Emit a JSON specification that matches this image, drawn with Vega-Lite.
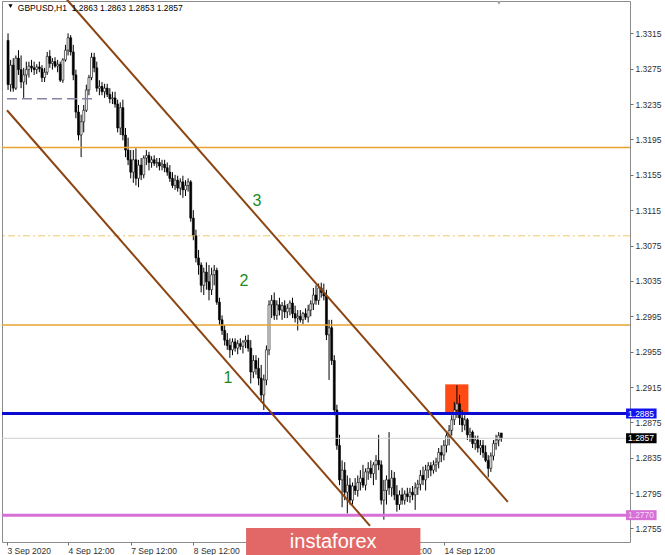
{
"$schema": "https://vega.github.io/schema/vega-lite/v6.json",
"width": 628, "height": 541,
"autosize": {"type": "none"},
"padding": {"left": 2, "top": 1, "right": 35, "bottom": 13},
"background": "white",
"config": {
  "view": {"stroke": "#8c8c8c"},
  "axis": {"grid": false, "domain": false, "labelFont": "Liberation Sans", "labelFontSize": 8.5, "labelColor": "#303030", "tickColor": "#707070", "tickSize": 3}
},
"resolve": {"axis": {"x": "independent", "y": "independent"}},
"datasets": {
"candles": [
{"i":0,"o":1.3307,"h":1.3315,"l":1.3251,"c":1.3257},
{"i":1,"o":1.3257,"h":1.3285,"l":1.3249,"c":1.3279},
{"i":2,"o":1.3279,"h":1.3287,"l":1.3249,"c":1.3253},
{"i":3,"o":1.3253,"h":1.3290,"l":1.3251,"c":1.3287},
{"i":4,"o":1.3287,"h":1.3296,"l":1.3268,"c":1.3274},
{"i":5,"o":1.3274,"h":1.3290,"l":1.3253,"c":1.3260},
{"i":6,"o":1.3260,"h":1.3276,"l":1.3242,"c":1.3268},
{"i":7,"o":1.3268,"h":1.3283,"l":1.3257,"c":1.3274},
{"i":8,"o":1.3274,"h":1.3283,"l":1.3265,"c":1.3278},
{"i":9,"o":1.3278,"h":1.3285,"l":1.3271,"c":1.3276},
{"i":10,"o":1.3276,"h":1.3283,"l":1.3268,"c":1.3274},
{"i":11,"o":1.3274,"h":1.3280,"l":1.3269,"c":1.3277},
{"i":12,"o":1.3277,"h":1.3283,"l":1.3271,"c":1.3275},
{"i":13,"o":1.3275,"h":1.3279,"l":1.3260,"c":1.3265},
{"i":14,"o":1.3265,"h":1.3276,"l":1.3260,"c":1.3271},
{"i":15,"o":1.3271,"h":1.3294,"l":1.3268,"c":1.3289},
{"i":16,"o":1.3289,"h":1.3296,"l":1.3276,"c":1.3281},
{"i":17,"o":1.3281,"h":1.3287,"l":1.3274,"c":1.3283},
{"i":18,"o":1.3283,"h":1.3288,"l":1.3276,"c":1.3278},
{"i":19,"o":1.3278,"h":1.3285,"l":1.3271,"c":1.3280},
{"i":20,"o":1.3280,"h":1.3283,"l":1.3260,"c":1.3262},
{"i":21,"o":1.3262,"h":1.3287,"l":1.3259,"c":1.3285},
{"i":22,"o":1.3285,"h":1.3302,"l":1.3283,"c":1.3296},
{"i":23,"o":1.3296,"h":1.3315,"l":1.3290,"c":1.3310},
{"i":24,"o":1.3310,"h":1.3313,"l":1.3290,"c":1.3294},
{"i":25,"o":1.3294,"h":1.3302,"l":1.3262,"c":1.3268},
{"i":26,"o":1.3268,"h":1.3274,"l":1.3219,"c":1.3226},
{"i":27,"o":1.3226,"h":1.3234,"l":1.3194,"c":1.3200},
{"i":28,"o":1.3200,"h":1.3223,"l":1.3175,"c":1.3215},
{"i":29,"o":1.3215,"h":1.3234,"l":1.3203,"c":1.3228},
{"i":30,"o":1.3228,"h":1.3257,"l":1.3226,"c":1.3251},
{"i":31,"o":1.3251,"h":1.3268,"l":1.3245,"c":1.3265},
{"i":32,"o":1.3265,"h":1.3293,"l":1.3262,"c":1.3288},
{"i":33,"o":1.3288,"h":1.3293,"l":1.3271,"c":1.3276},
{"i":34,"o":1.3276,"h":1.3283,"l":1.3249,"c":1.3253},
{"i":35,"o":1.3253,"h":1.3262,"l":1.3245,"c":1.3255},
{"i":36,"o":1.3255,"h":1.3260,"l":1.3245,"c":1.3249},
{"i":37,"o":1.3249,"h":1.3258,"l":1.3242,"c":1.3253},
{"i":38,"o":1.3253,"h":1.3258,"l":1.3243,"c":1.3246},
{"i":39,"o":1.3246,"h":1.3253,"l":1.3236,"c":1.3241},
{"i":40,"o":1.3241,"h":1.3249,"l":1.3235,"c":1.3242},
{"i":41,"o":1.3242,"h":1.3249,"l":1.3231,"c":1.3235},
{"i":42,"o":1.3235,"h":1.3240,"l":1.3203,"c":1.3208},
{"i":43,"o":1.3208,"h":1.3237,"l":1.3200,"c":1.3231},
{"i":44,"o":1.3231,"h":1.3240,"l":1.3194,"c":1.3200},
{"i":45,"o":1.3200,"h":1.3208,"l":1.3175,"c":1.3183},
{"i":46,"o":1.3183,"h":1.3197,"l":1.3166,"c":1.3172},
{"i":47,"o":1.3172,"h":1.3183,"l":1.3151,"c":1.3158},
{"i":48,"o":1.3158,"h":1.3183,"l":1.3146,"c":1.3172},
{"i":49,"o":1.3172,"h":1.3185,"l":1.3143,"c":1.3151},
{"i":50,"o":1.3151,"h":1.3172,"l":1.3141,"c":1.3166},
{"i":51,"o":1.3166,"h":1.3174,"l":1.3149,"c":1.3155},
{"i":52,"o":1.3155,"h":1.3177,"l":1.3151,"c":1.3174},
{"i":53,"o":1.3174,"h":1.3183,"l":1.3166,"c":1.3177},
{"i":54,"o":1.3177,"h":1.3181,"l":1.3160,"c":1.3169},
{"i":55,"o":1.3169,"h":1.3176,"l":1.3163,"c":1.3172},
{"i":56,"o":1.3172,"h":1.3177,"l":1.3165,"c":1.3168},
{"i":57,"o":1.3168,"h":1.3174,"l":1.3163,"c":1.3169},
{"i":58,"o":1.3169,"h":1.3174,"l":1.3160,"c":1.3165},
{"i":59,"o":1.3165,"h":1.3172,"l":1.3160,"c":1.3167},
{"i":60,"o":1.3167,"h":1.3172,"l":1.3158,"c":1.3163},
{"i":61,"o":1.3163,"h":1.3169,"l":1.3154,"c":1.3158},
{"i":62,"o":1.3158,"h":1.3166,"l":1.3147,"c":1.3151},
{"i":63,"o":1.3151,"h":1.3158,"l":1.3140,"c":1.3143},
{"i":64,"o":1.3143,"h":1.3155,"l":1.3138,"c":1.3149},
{"i":65,"o":1.3149,"h":1.3154,"l":1.3136,"c":1.3140},
{"i":66,"o":1.3140,"h":1.3151,"l":1.3132,"c":1.3147},
{"i":67,"o":1.3147,"h":1.3154,"l":1.3129,"c":1.3138},
{"i":68,"o":1.3138,"h":1.3149,"l":1.3131,"c":1.3143},
{"i":69,"o":1.3143,"h":1.3151,"l":1.3136,"c":1.3147},
{"i":70,"o":1.3147,"h":1.3149,"l":1.3102,"c":1.3106},
{"i":71,"o":1.3106,"h":1.3115,"l":1.3081,"c":1.3086},
{"i":72,"o":1.3086,"h":1.3093,"l":1.3056,"c":1.3061},
{"i":73,"o":1.3061,"h":1.3070,"l":1.3042,"c":1.3053},
{"i":74,"o":1.3053,"h":1.3056,"l":1.3022,"c":1.3030},
{"i":75,"o":1.3030,"h":1.3050,"l":1.3019,"c":1.3045},
{"i":76,"o":1.3045,"h":1.3056,"l":1.3025,"c":1.3034},
{"i":77,"o":1.3034,"h":1.3053,"l":1.3013,"c":1.3025},
{"i":78,"o":1.3025,"h":1.3050,"l":1.3019,"c":1.3042},
{"i":79,"o":1.3042,"h":1.3053,"l":1.3030,"c":1.3047},
{"i":80,"o":1.3047,"h":1.3050,"l":1.3008,"c":1.3011},
{"i":81,"o":1.3011,"h":1.3016,"l":1.2985,"c":1.2991},
{"i":82,"o":1.2991,"h":1.2996,"l":1.2974,"c":1.2979},
{"i":83,"o":1.2979,"h":1.2985,"l":1.2962,"c":1.2968},
{"i":84,"o":1.2968,"h":1.2976,"l":1.2957,"c":1.2962},
{"i":85,"o":1.2962,"h":1.2970,"l":1.2948,"c":1.2957},
{"i":86,"o":1.2957,"h":1.2970,"l":1.2951,"c":1.2966},
{"i":87,"o":1.2966,"h":1.2970,"l":1.2955,"c":1.2959},
{"i":88,"o":1.2959,"h":1.2968,"l":1.2952,"c":1.2964},
{"i":89,"o":1.2964,"h":1.2970,"l":1.2957,"c":1.2961},
{"i":90,"o":1.2961,"h":1.2968,"l":1.2953,"c":1.2966},
{"i":91,"o":1.2966,"h":1.2973,"l":1.2959,"c":1.2968},
{"i":92,"o":1.2968,"h":1.2974,"l":1.2955,"c":1.2959},
{"i":93,"o":1.2959,"h":1.2968,"l":1.2919,"c":1.2932},
{"i":94,"o":1.2932,"h":1.2951,"l":1.2925,"c":1.2945},
{"i":95,"o":1.2945,"h":1.2951,"l":1.2929,"c":1.2936},
{"i":96,"o":1.2936,"h":1.2948,"l":1.2917,"c":1.2925},
{"i":97,"o":1.2925,"h":1.2940,"l":1.2900,"c":1.2906},
{"i":98,"o":1.2906,"h":1.2929,"l":1.2889,"c":1.2923},
{"i":99,"o":1.2923,"h":1.2962,"l":1.2917,"c":1.2957},
{"i":100,"o":1.2957,"h":1.3013,"l":1.2951,"c":1.3008},
{"i":101,"o":1.3008,"h":1.3019,"l":1.2993,"c":1.3013},
{"i":102,"o":1.3013,"h":1.3022,"l":1.2991,"c":1.2996},
{"i":103,"o":1.2996,"h":1.3013,"l":1.2991,"c":1.3008},
{"i":104,"o":1.3008,"h":1.3016,"l":1.2996,"c":1.3002},
{"i":105,"o":1.3002,"h":1.3011,"l":1.2991,"c":1.3007},
{"i":106,"o":1.3007,"h":1.3013,"l":1.2993,"c":1.3000},
{"i":107,"o":1.3000,"h":1.3009,"l":1.2993,"c":1.3004},
{"i":108,"o":1.3004,"h":1.3013,"l":1.2996,"c":1.3010},
{"i":109,"o":1.3010,"h":1.3016,"l":1.2993,"c":1.2998},
{"i":110,"o":1.2998,"h":1.3007,"l":1.2988,"c":1.2993},
{"i":111,"o":1.2993,"h":1.3002,"l":1.2979,"c":1.2995},
{"i":112,"o":1.2995,"h":1.3002,"l":1.2988,"c":1.2991},
{"i":113,"o":1.2991,"h":1.3000,"l":1.2986,"c":1.2998},
{"i":114,"o":1.2998,"h":1.3004,"l":1.2991,"c":1.2994},
{"i":115,"o":1.2994,"h":1.3008,"l":1.2988,"c":1.3002},
{"i":116,"o":1.3002,"h":1.3013,"l":1.2995,"c":1.3009},
{"i":117,"o":1.3009,"h":1.3027,"l":1.3002,"c":1.3019},
{"i":118,"o":1.3019,"h":1.3030,"l":1.3008,"c":1.3013},
{"i":119,"o":1.3013,"h":1.3032,"l":1.3008,"c":1.3027},
{"i":120,"o":1.3027,"h":1.3033,"l":1.3016,"c":1.3022},
{"i":121,"o":1.3022,"h":1.3032,"l":1.3013,"c":1.3018},
{"i":122,"o":1.3018,"h":1.3025,"l":1.2968,"c":1.2974},
{"i":123,"o":1.2974,"h":1.2991,"l":1.2923,"c":1.2982},
{"i":124,"o":1.2982,"h":1.2991,"l":1.2940,"c":1.2945},
{"i":125,"o":1.2945,"h":1.2951,"l":1.2883,"c":1.2889},
{"i":126,"o":1.2889,"h":1.2895,"l":1.2844,"c":1.2849},
{"i":127,"o":1.2849,"h":1.2861,"l":1.2804,"c":1.2810},
{"i":128,"o":1.2810,"h":1.2832,"l":1.2779,"c":1.2821},
{"i":129,"o":1.2821,"h":1.2830,"l":1.2787,"c":1.2796},
{"i":130,"o":1.2796,"h":1.2815,"l":1.2772,"c":1.2804},
{"i":131,"o":1.2804,"h":1.2812,"l":1.2782,"c":1.2787},
{"i":132,"o":1.2787,"h":1.2807,"l":1.2782,"c":1.2803},
{"i":133,"o":1.2803,"h":1.2812,"l":1.2793,"c":1.2798},
{"i":134,"o":1.2798,"h":1.2815,"l":1.2791,"c":1.2807},
{"i":135,"o":1.2807,"h":1.2821,"l":1.2798,"c":1.2812},
{"i":136,"o":1.2812,"h":1.2827,"l":1.2801,"c":1.2804},
{"i":137,"o":1.2804,"h":1.2823,"l":1.2798,"c":1.2819},
{"i":138,"o":1.2819,"h":1.2830,"l":1.2810,"c":1.2823},
{"i":139,"o":1.2823,"h":1.2832,"l":1.2812,"c":1.2817},
{"i":140,"o":1.2817,"h":1.2830,"l":1.2804,"c":1.2827},
{"i":141,"o":1.2827,"h":1.2838,"l":1.2810,"c":1.2832},
{"i":142,"o":1.2832,"h":1.2861,"l":1.2821,"c":1.2827},
{"i":143,"o":1.2827,"h":1.2832,"l":1.2782,"c":1.2787},
{"i":144,"o":1.2787,"h":1.2810,"l":1.2765,"c":1.2798},
{"i":145,"o":1.2798,"h":1.2815,"l":1.2782,"c":1.2810},
{"i":146,"o":1.2810,"h":1.2864,"l":1.2793,"c":1.2801},
{"i":147,"o":1.2801,"h":1.2821,"l":1.2791,"c":1.2812},
{"i":148,"o":1.2812,"h":1.2819,"l":1.2787,"c":1.2793},
{"i":149,"o":1.2793,"h":1.2804,"l":1.2774,"c":1.2782},
{"i":150,"o":1.2782,"h":1.2798,"l":1.2776,"c":1.2793},
{"i":151,"o":1.2793,"h":1.2801,"l":1.2782,"c":1.2787},
{"i":152,"o":1.2787,"h":1.2798,"l":1.2782,"c":1.2794},
{"i":153,"o":1.2794,"h":1.2801,"l":1.2785,"c":1.2791},
{"i":154,"o":1.2791,"h":1.2801,"l":1.2784,"c":1.2796},
{"i":155,"o":1.2796,"h":1.2803,"l":1.2787,"c":1.2793},
{"i":156,"o":1.2793,"h":1.2807,"l":1.2776,"c":1.2801},
{"i":157,"o":1.2801,"h":1.2810,"l":1.2793,"c":1.2805},
{"i":158,"o":1.2805,"h":1.2821,"l":1.2798,"c":1.2815},
{"i":159,"o":1.2815,"h":1.2825,"l":1.2804,"c":1.2810},
{"i":160,"o":1.2810,"h":1.2827,"l":1.2798,"c":1.2821},
{"i":161,"o":1.2821,"h":1.2830,"l":1.2812,"c":1.2826},
{"i":162,"o":1.2826,"h":1.2830,"l":1.2814,"c":1.2821},
{"i":163,"o":1.2821,"h":1.2832,"l":1.2817,"c":1.2827},
{"i":164,"o":1.2827,"h":1.2835,"l":1.2819,"c":1.2830},
{"i":165,"o":1.2830,"h":1.2846,"l":1.2823,"c":1.2841},
{"i":166,"o":1.2841,"h":1.2849,"l":1.2830,"c":1.2838},
{"i":167,"o":1.2838,"h":1.2855,"l":1.2832,"c":1.2849},
{"i":168,"o":1.2849,"h":1.2864,"l":1.2841,"c":1.2860},
{"i":169,"o":1.2860,"h":1.2872,"l":1.2849,"c":1.2866},
{"i":170,"o":1.2866,"h":1.2883,"l":1.2860,"c":1.2878},
{"i":171,"o":1.2878,"h":1.2898,"l":1.2872,"c":1.2889},
{"i":172,"o":1.2889,"h":1.2917,"l":1.2880,"c":1.2896},
{"i":173,"o":1.2896,"h":1.2906,"l":1.2872,"c":1.2880},
{"i":174,"o":1.2880,"h":1.2889,"l":1.2864,"c":1.2872},
{"i":175,"o":1.2872,"h":1.2883,"l":1.2866,"c":1.2878},
{"i":176,"o":1.2878,"h":1.2880,"l":1.2855,"c":1.2861},
{"i":177,"o":1.2861,"h":1.2869,"l":1.2853,"c":1.2864},
{"i":178,"o":1.2864,"h":1.2866,"l":1.2846,"c":1.2851},
{"i":179,"o":1.2851,"h":1.2860,"l":1.2844,"c":1.2855},
{"i":180,"o":1.2855,"h":1.2860,"l":1.2841,"c":1.2846},
{"i":181,"o":1.2846,"h":1.2855,"l":1.2838,"c":1.2849},
{"i":182,"o":1.2849,"h":1.2855,"l":1.2835,"c":1.2841},
{"i":183,"o":1.2841,"h":1.2849,"l":1.2830,"c":1.2832},
{"i":184,"o":1.2832,"h":1.2838,"l":1.2813,"c":1.2823},
{"i":185,"o":1.2823,"h":1.2841,"l":1.2819,"c":1.2837},
{"i":186,"o":1.2837,"h":1.2855,"l":1.2832,"c":1.2851},
{"i":187,"o":1.2851,"h":1.2861,"l":1.2844,"c":1.2855},
{"i":188,"o":1.2855,"h":1.2864,"l":1.2848,"c":1.2860},
{"i":189,"o":1.2863,"h":1.2863,"l":1.2853,"c":1.2857}
],
"levels": [
{"name":"res1","p":1.3186},
{"name":"mid","p":1.3086},
{"name":"res2","p":1.2985},
{"name":"last","p":1.2857},
{"name":"blue","p":1.2885},
{"name":"pink","p":1.2770}
],
"dashed": [{"i1":-0.4,"i2":33.9,"p":1.3241}],
"zones": [{"i1":167.5,"i2":176.4,"p1":1.2885,"p2":1.2918}],
"channel": [
{"i1":22.6,"p1":1.3353,"i2":191.5,"p2":1.2785},
{"i1":-0.4,"p1":1.3228,"i2":138.7,"p2":1.2758}
],
"waves": [
{"i":95.4,"p":1.31254,"label":"3"},
{"i":90.4,"p":1.30349,"label":"2"},
{"i":84.3,"p":1.29252,"label":"1"}
],
"header": [{"i":3.75,"p":1.33403,"label":"GBPUSD,H1\u00a0 1.2863 1.2863 1.2853 1.2857"}],
"markers": [
{"kind":"hdr","i":0.95,"p":1.33459},
{"kind":"shift","i":188.1,"p":1.33495}
],
"boxes": [
{"kind":"blue","i1":236.8,"i2":248.5,"p1":1.28794,"p2":1.28907,"pm":1.2885,"label":"1.2885"},
{"kind":"black","i1":236.8,"i2":248.5,"p1":1.28514,"p2":1.28627,"pm":1.2857,"label":"1.2857"},
{"kind":"pink","i1":236.8,"i2":248.5,"p1":1.27644,"p2":1.27757,"pm":1.2770,"label":"1.2770"}
],
"logo": [{"i1":91.2,"i2":158.0,"p1":1.2725,"p2":1.27555,"im":124.6,"pm":1.27395,"label":"instaforex"}]
},
"layer": [
{"data":{"name":"zones"},"mark":{"type":"rect","color":"#ff4a14"},
 "encoding":{
  "x":{"field":"i1","type":"quantitative","scale":{"domain":[-0.4,236.4],"nice":false,"zero":false},
   "axis":{"orient":"bottom","title":null,"values":[-0.4,23,47,71,143,167],
    "labelExpr":"datum.value < 0 ? '3 Sep 2020' : datum.value == 23 ? '4 Sep 12:00' : datum.value == 47 ? '7 Sep 12:00' : datum.value == 71 ? '8 Sep 12:00' : datum.value == 143 ? '11 Sep 12:00' : '14 Sep 12:00'",
    "labelAlign":"left","labelBaseline":"top","labelPadding":1,"labelFlush":false,"labelOverlap":false}},
  "x2":{"field":"i2"},
  "y":{"field":"p1","type":"quantitative","scale":{"domain":[1.27397,1.33516],"nice":false,"zero":false},
   "axis":{"orient":"right","title":null,"values":[1.2755,1.2795,1.2835,1.2875,1.2915,1.2955,1.2995,1.3035,1.3075,1.3115,1.3155,1.3195,1.3235,1.3275,1.3315],
    "format":".4f","labelAlign":"left","labelBaseline":"middle","labelPadding":2,"labelFlush":false,"labelOverlap":false}},
  "y2":{"field":"p2"}}},
{"data":{"name":"candles"},"mark":{"type":"rule","color":"#000000","strokeWidth":1},
 "encoding":{
  "x":{"field":"i","type":"quantitative","scale":{"domain":[-0.4,236.4],"nice":false,"zero":false},"axis":null},
  "y":{"field":"l","type":"quantitative","scale":{"domain":[1.27397,1.33516],"nice":false,"zero":false},"axis":null},
  "y2":{"field":"h"}}},
{"data":{"name":"candles"},"mark":{"type":"bar","size":2,"stroke":"#000000","strokeWidth":0.6},
 "encoding":{
  "x":{"field":"i","type":"quantitative","scale":{"domain":[-0.4,236.4],"nice":false,"zero":false},"axis":null},
  "y":{"field":"o","type":"quantitative","scale":{"domain":[1.27397,1.33516],"nice":false,"zero":false},"axis":null},
  "y2":{"field":"c"},
  "fill":{"condition":{"test":"datum.c >= datum.o","value":"#ffffff"},"value":"#000000"}}},
{"data":{"name":"levels"},"transform":[{"filter":"datum.name == 'res1' || datum.name == 'res2'"}],
 "mark":{"type":"rule","color":"#e9a232","strokeWidth":1.5},
 "encoding":{"y":{"field":"p","type":"quantitative","scale":{"domain":[1.27397,1.33516],"nice":false,"zero":false},"axis":null}}},
{"data":{"name":"levels"},"transform":[{"filter":"datum.name == 'mid'"}],
 "mark":{"type":"rule","color":"#f0c56a","strokeWidth":1,"strokeDash":[7,3,2,3]},
 "encoding":{"y":{"field":"p","type":"quantitative","scale":{"domain":[1.27397,1.33516],"nice":false,"zero":false},"axis":null}}},
{"data":{"name":"levels"},"transform":[{"filter":"datum.name == 'last'"}],
 "mark":{"type":"rule","color":"#d0d0d0","strokeWidth":1},
 "encoding":{"y":{"field":"p","type":"quantitative","scale":{"domain":[1.27397,1.33516],"nice":false,"zero":false},"axis":null}}},
{"data":{"name":"levels"},"transform":[{"filter":"datum.name == 'blue'"}],
 "mark":{"type":"rule","color":"#0a0ad0","strokeWidth":3},
 "encoding":{"y":{"field":"p","type":"quantitative","scale":{"domain":[1.27397,1.33516],"nice":false,"zero":false},"axis":null}}},
{"data":{"name":"levels"},"transform":[{"filter":"datum.name == 'pink'"}],
 "mark":{"type":"rule","color":"#d670d6","strokeWidth":3},
 "encoding":{"y":{"field":"p","type":"quantitative","scale":{"domain":[1.27397,1.33516],"nice":false,"zero":false},"axis":null}}},
{"data":{"name":"dashed"},"mark":{"type":"rule","color":"#8585a5","strokeWidth":1.5,"strokeDash":[10,5]},
 "encoding":{
  "x":{"field":"i1","type":"quantitative","scale":{"domain":[-0.4,236.4],"nice":false,"zero":false},"axis":null},
  "x2":{"field":"i2"},
  "y":{"field":"p","type":"quantitative","scale":{"domain":[1.27397,1.33516],"nice":false,"zero":false},"axis":null}}},
{"data":{"name":"channel"},"mark":{"type":"rule","color":"#8b4513","strokeWidth":2},
 "encoding":{
  "x":{"field":"i1","type":"quantitative","scale":{"domain":[-0.4,236.4],"nice":false,"zero":false},"axis":null},
  "x2":{"field":"i2"},
  "y":{"field":"p1","type":"quantitative","scale":{"domain":[1.27397,1.33516],"nice":false,"zero":false},"axis":null},
  "y2":{"field":"p2"}}},
{"data":{"name":"waves"},"mark":{"type":"text","color":"#228a22","font":"Liberation Sans","fontSize":16,"align":"center","baseline":"middle"},
 "encoding":{
  "x":{"field":"i","type":"quantitative","scale":{"domain":[-0.4,236.4],"nice":false,"zero":false},"axis":null},
  "y":{"field":"p","type":"quantitative","scale":{"domain":[1.27397,1.33516],"nice":false,"zero":false},"axis":null},
  "text":{"field":"label"}}},
{"data":{"name":"header"},"mark":{"type":"text","color":"#000000","font":"Liberation Sans","fontSize":8.5,"align":"left","baseline":"alphabetic"},
 "encoding":{
  "x":{"field":"i","type":"quantitative","scale":{"domain":[-0.4,236.4],"nice":false,"zero":false},"axis":null},
  "y":{"field":"p","type":"quantitative","scale":{"domain":[1.27397,1.33516],"nice":false,"zero":false},"axis":null},
  "text":{"field":"label"}}},
{"data":{"name":"markers"},"mark":{"type":"point","shape":"triangle-down","filled":true,"size":18,"opacity":1},
 "encoding":{
  "x":{"field":"i","type":"quantitative","scale":{"domain":[-0.4,236.4],"nice":false,"zero":false},"axis":null},
  "y":{"field":"p","type":"quantitative","scale":{"domain":[1.27397,1.33516],"nice":false,"zero":false},"axis":null},
  "color":{"condition":{"test":"datum.kind == 'hdr'","value":"#000000"},"value":"#a0a0a0"}}},
{"data":{"name":"boxes"},"mark":{"type":"rect"},
 "encoding":{
  "x":{"field":"i1","type":"quantitative","scale":{"domain":[-0.4,236.4],"nice":false,"zero":false},"axis":null},
  "x2":{"field":"i2"},
  "y":{"field":"p1","type":"quantitative","scale":{"domain":[1.27397,1.33516],"nice":false,"zero":false},"axis":null},
  "y2":{"field":"p2"},
  "color":{"condition":[{"test":"datum.kind == 'blue'","value":"#1414f0"},{"test":"datum.kind == 'pink'","value":"#d670d6"}],"value":"#000000"}}},
{"data":{"name":"boxes"},"mark":{"type":"text","font":"Liberation Sans","fontSize":8.5,"align":"left","baseline":"middle","dx":2},
 "encoding":{
  "x":{"field":"i1","type":"quantitative","scale":{"domain":[-0.4,236.4],"nice":false,"zero":false},"axis":null},
  "y":{"field":"pm","type":"quantitative","scale":{"domain":[1.27397,1.33516],"nice":false,"zero":false},"axis":null},
  "text":{"field":"label"},
  "color":{"condition":{"test":"datum.kind == 'pink'","value":"#f6d6f6"},"value":"#ffffff"}}},
{"data":{"name":"logo"},"mark":{"type":"rect","color":"#e26868"},
 "encoding":{
  "x":{"field":"i1","type":"quantitative","scale":{"domain":[-0.4,236.4],"nice":false,"zero":false},"axis":null},
  "x2":{"field":"i2"},
  "y":{"field":"p1","type":"quantitative","scale":{"domain":[1.27397,1.33516],"nice":false,"zero":false},"axis":null},
  "y2":{"field":"p2"}}},
{"data":{"name":"logo"},"mark":{"type":"text","color":"#ffffff","font":"Liberation Sans","fontSize":20,"align":"center","baseline":"middle"},
 "encoding":{
  "x":{"field":"im","type":"quantitative","scale":{"domain":[-0.4,236.4],"nice":false,"zero":false},"axis":null},
  "y":{"field":"pm","type":"quantitative","scale":{"domain":[1.27397,1.33516],"nice":false,"zero":false},"axis":null},
  "text":{"field":"label"}}}
]
}
